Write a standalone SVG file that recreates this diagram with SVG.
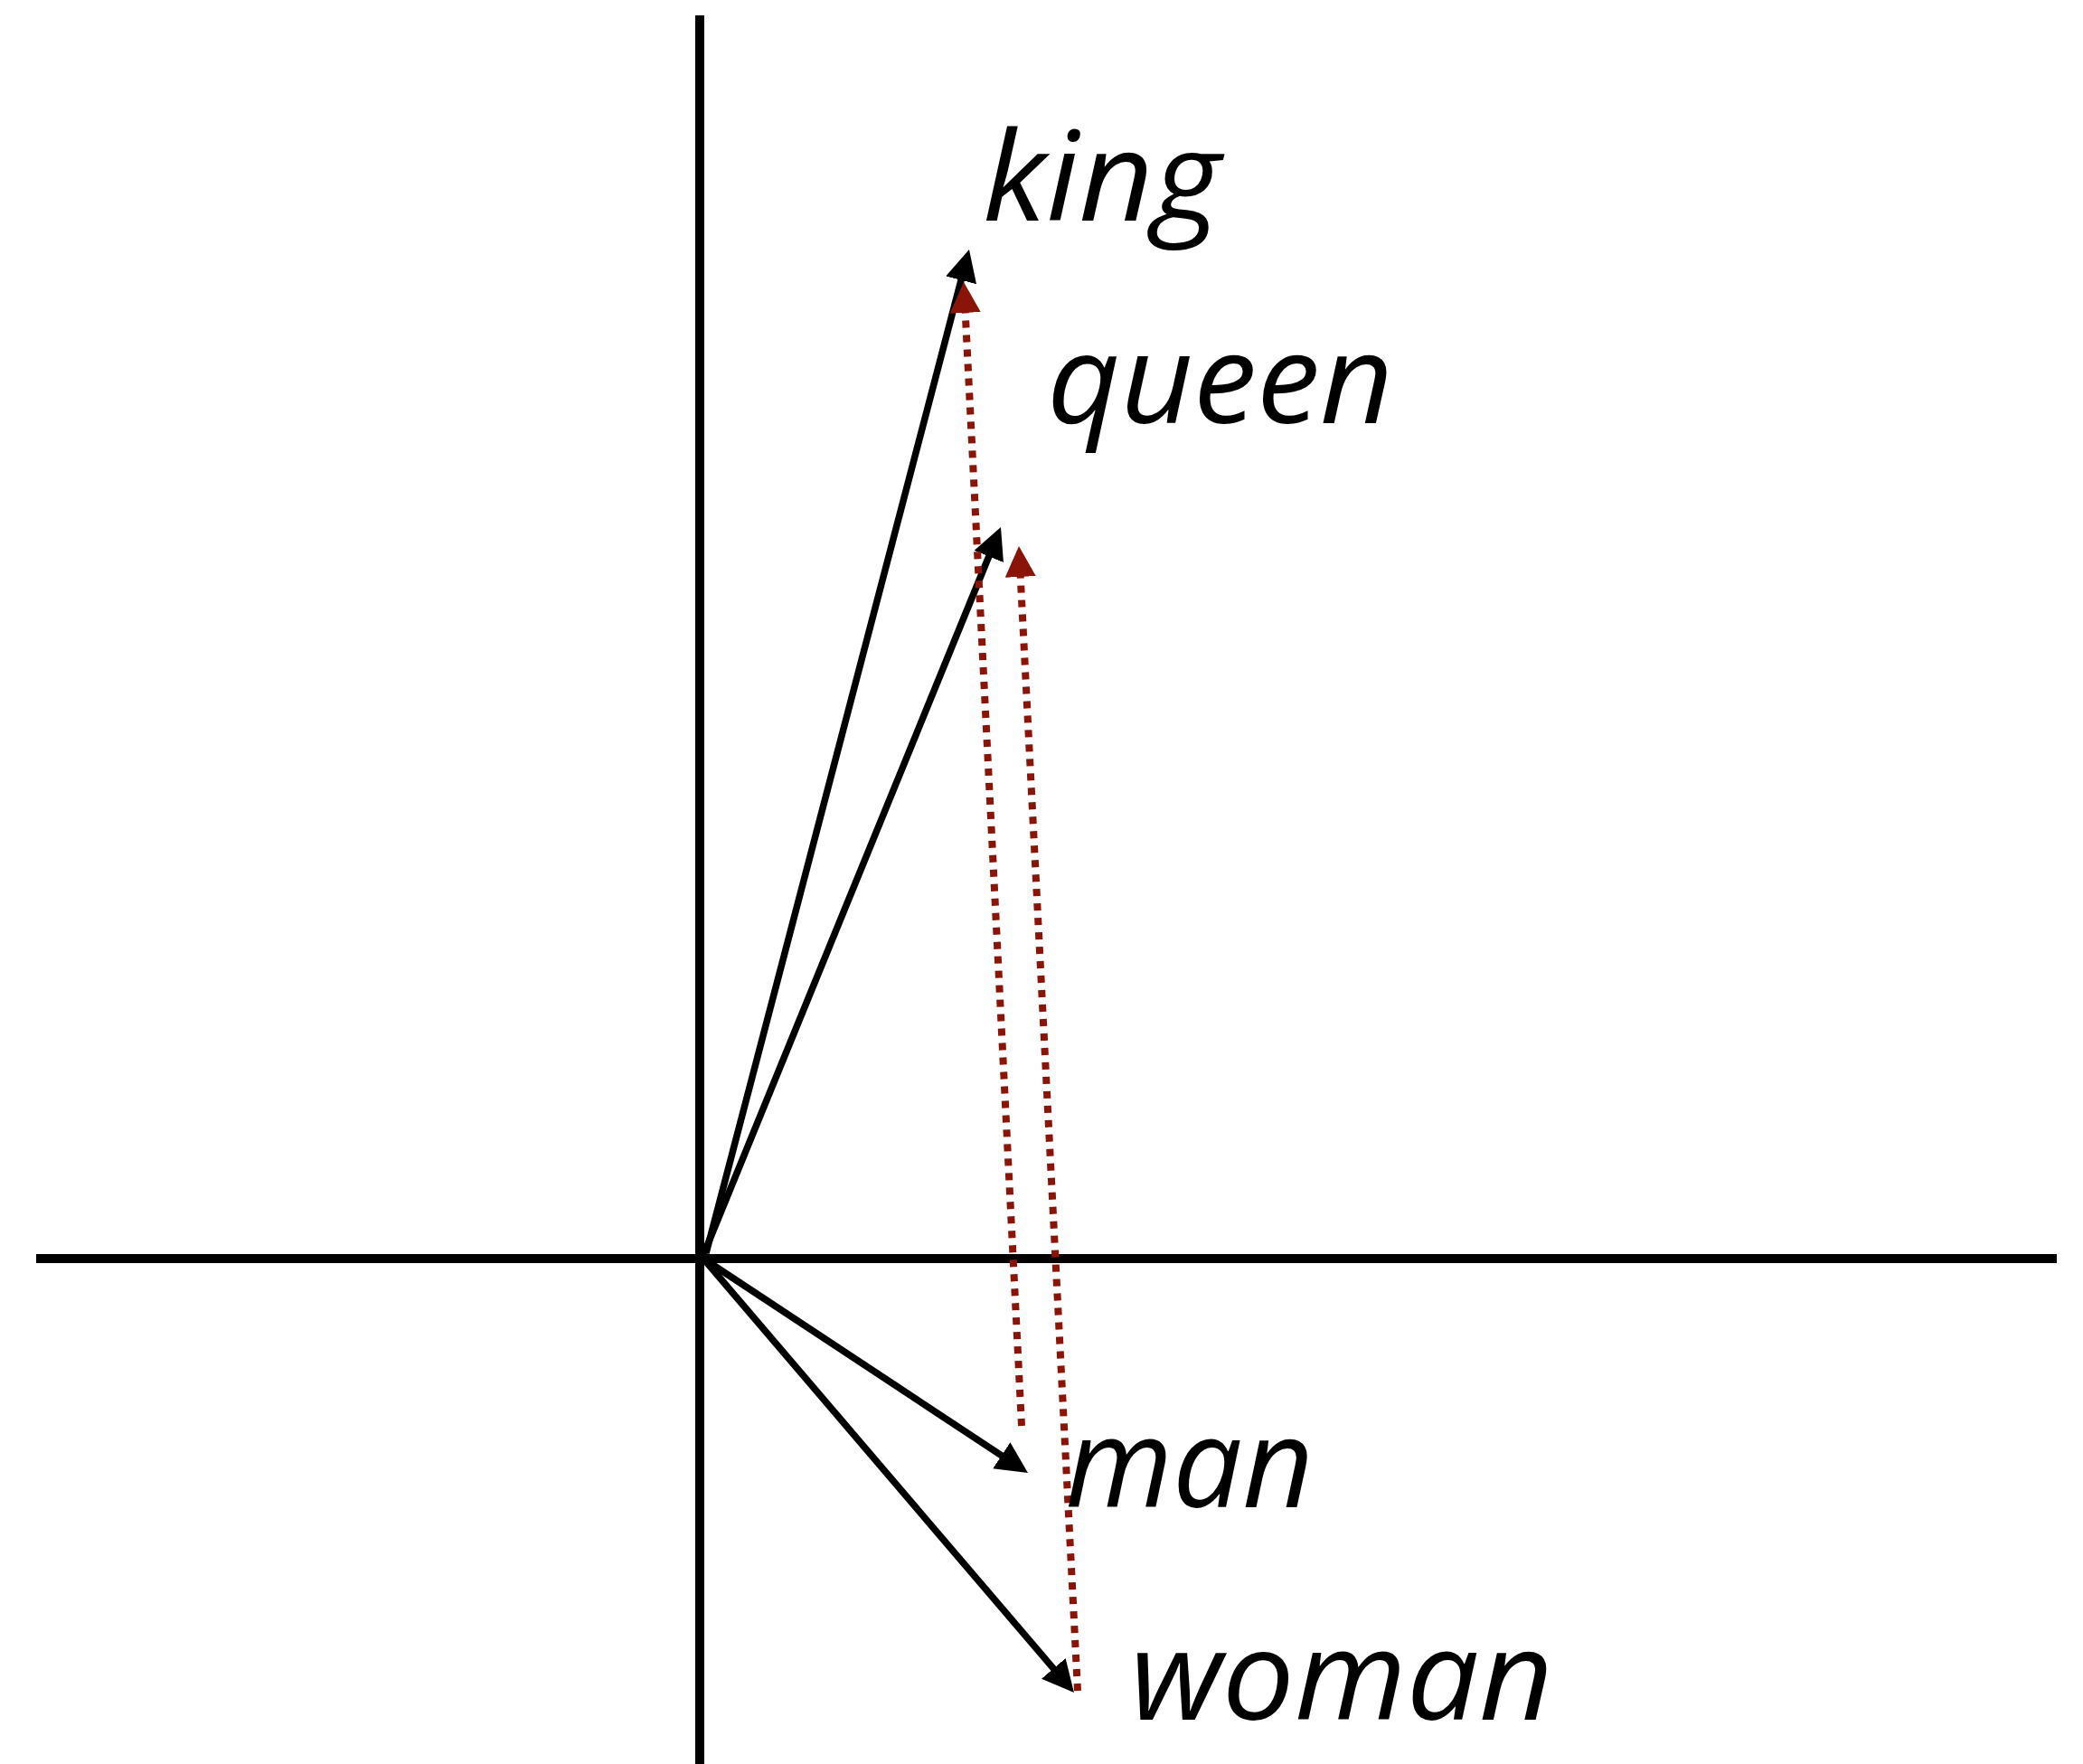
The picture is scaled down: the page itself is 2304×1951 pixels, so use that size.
<svg xmlns="http://www.w3.org/2000/svg" width="2304" height="1951" viewBox="0 0 2304 1951">
<style>
.axis{stroke:#000;stroke-width:10;fill:none}
.vec{stroke:#000;stroke-width:7.5;fill:none;marker-end:url(#ah)}
.diff{stroke:#8B1409;stroke-width:8;stroke-dasharray:8 8;fill:none;marker-end:url(#ahr)}
.lbl{font-family:"Open Sans","Noto Sans",sans-serif;font-style:italic;font-size:138px;fill:#000}
</style>
<defs>
<marker id="ah" markerUnits="userSpaceOnUse" markerWidth="35" markerHeight="35" refX="21" refY="17.5" orient="auto" viewBox="0 0 35 35"><path d="M0,0 L35,17.5 L0,35 z" fill="#000"/></marker>
<marker id="ahr" markerUnits="userSpaceOnUse" markerWidth="34" markerHeight="34" refX="20" refY="17" orient="auto" viewBox="0 0 34 34"><path d="M0,0 L34,17 L0,34 z" fill="#8B1409"/></marker>
</defs>
<rect width="2304" height="1951" fill="#fff"/>
<g id="axes">
<line class="axis" x1="774" y1="17" x2="774" y2="1951"/>
<line class="axis" x1="40" y1="1392" x2="2275" y2="1392"/>
</g>
<g id="connectors">
<line class="vec" x1="781" y1="1386" x2="1068.4" y2="289.5"/>
<line class="vec" x1="778" y1="1388" x2="1101.7" y2="596"/>
<line class="vec" x1="778" y1="1392" x2="1125.3" y2="1621.3"/>
<line class="vec" x1="778" y1="1392" x2="1178.9" y2="1861.4"/>
<line class="diff" x1="1130" y1="1577" x2="1066.7" y2="326"/>
<line class="diff" x1="1192" y1="1870" x2="1127.7" y2="618"/>
</g>
<g id="king"><text class="lbl" x="1087" y="244" textLength="263" lengthAdjust="spacingAndGlyphs">king</text></g>
<g id="queen"><text class="lbl" x="1158" y="468" textLength="383" lengthAdjust="spacingAndGlyphs">queen</text></g>
<g id="man"><text class="lbl" x="1178" y="1667" textLength="275" lengthAdjust="spacingAndGlyphs">man</text></g>
<g id="woman"><text class="lbl" x="1250" y="1902" textLength="468" lengthAdjust="spacingAndGlyphs">woman</text></g>
</svg>
